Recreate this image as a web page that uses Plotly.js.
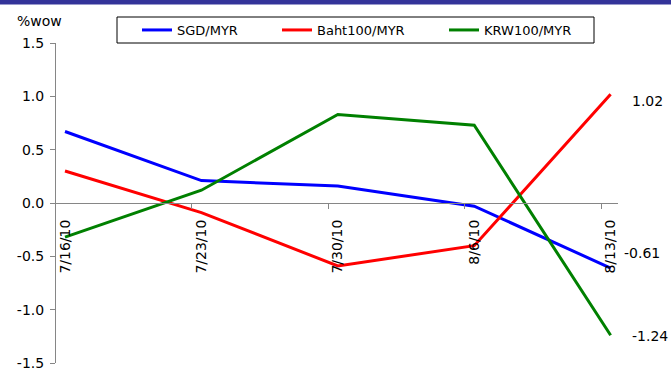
<!DOCTYPE html>
<html>
<head>
<meta charset="utf-8">
<script src="https://cdn.plot.ly/plotly-3.0.1.min.js"></script>
<style>
  html, body { margin: 0; padding: 0; background: #fff; }
  #wrap { position: relative; width: 671px; height: 372px; overflow: hidden; }
  #chart { position: absolute; left: 0; top: 0; width: 671px; height: 372px; }
  #band { position: absolute; left: 0; top: 0; width: 671px; height: 4px; background: #333399; border-bottom: 1px solid #9999cc; z-index: 5; }
</style>
</head>
<body>
<div id="wrap">
  <div id="chart"></div>
  <div id="band"></div>
</div>
<script>
// ---- data ----
const categories = ["7/16/10", "7/23/10", "7/30/10", "8/6/10", "8/13/10"];
const seriesNames = ["SGD/MYR", "Baht100/MYR", "KRW100/MYR"];
const sgdMyr  = [0.67, 0.21, 0.16, -0.03, -0.61];
const bahtMyr = [0.30, -0.09, -0.59, -0.40, 1.02];
const krwMyr  = [-0.32, 0.12, 0.83, 0.73, -1.24];
const yTickVals = [-1.5, -1.0, -0.5, 0.0, 0.5, 1.0, 1.5];
const yAxisTitle = "%wow";

// ---- styling ----
const FONT = "DejaVu Sans, Verdana, sans-serif";
const AXIS_GREY = "#868686";
const colors = ["#0000ff", "#ff0000", "#008000"];
const series = [sgdMyr, bahtMyr, krwMyr];
const legendIds = ["legend", "legend2", "legend3"];
const legendLeftPx = [137, 277, 444];

const W = 671, H = 372;
const M = { l: 56, r: 53, t: 43, b: 9 };
const plotW = W - M.l - M.r, plotH = H - M.t - M.b;
const pxToPaperX = px => (px - M.l) / plotW;
const pxToPaperY = py => 1 + (M.t - py) / plotH;

const idx = categories.map((_, i) => i);
const xRange = [-0.066, 4.054];
const TICK_OFFSET = 0.07;

const traces = series.map((vals, k) => ({
  type: "scatter",
  mode: "lines",
  x: idx,
  y: vals,
  name: seriesNames[k],
  legend: legendIds[k],
  line: { color: colors[k], width: 3 },
  xaxis: "x",
  yaxis: "y"
}));
// invisible trace to carry the overlay tick axis
traces.push({
  type: "scatter", mode: "lines", x: [xRange[0]], y: [0],
  xaxis: "x2", yaxis: "y", showlegend: false, hoverinfo: "skip",
  line: { color: "rgba(0,0,0,0)" }
});

// end-point data labels
const labelShift = [
  { xs: 11, ys: 15 },   // SGD
  { xs: 19, ys: -7 },   // Baht
  { xs: 19, ys: -1 }    // KRW
];
const annotations = series.map((vals, k) => {
  const last = vals.length - 1;
  return {
    x: idx[last], y: vals[last], xref: "x", yref: "y",
    text: vals[last].toFixed(2), showarrow: false,
    xanchor: "left", yanchor: "middle",
    xshift: labelShift[k].xs, yshift: labelShift[k].ys,
    font: { family: FONT, size: 14, color: "#000" }
  };
});
annotations.push({
  x: pxToPaperX(15), y: pxToPaperY(21), xref: "paper", yref: "paper",
  text: yAxisTitle, showarrow: false, xanchor: "left", yanchor: "middle",
  font: { family: FONT, size: 14, color: "#000" }
});

const layout = {
  width: W, height: H,
  margin: M,
  paper_bgcolor: "#ffffff",
  plot_bgcolor: "#ffffff",
  font: { family: FONT, size: 14, color: "#000" },
  showlegend: true,
  xaxis: {
    range: xRange,
    anchor: "free", position: 0.5,
    tickmode: "array", tickvals: idx, ticktext: categories,
    ticks: "", tickangle: -90,
    ticklabelstandoff: 10,
    showline: true, linecolor: AXIS_GREY, linewidth: 1,
    showgrid: false, zeroline: false,
    tickfont: { family: FONT, size: 14, color: "#000" },
    fixedrange: true
  },
  xaxis2: {
    range: xRange, overlaying: "x",
    anchor: "free", position: 0.5,
    tickmode: "array", tickvals: idx.map(i => i - TICK_OFFSET),
    showticklabels: false,
    ticks: "outside", ticklen: 5, tickwidth: 1, tickcolor: AXIS_GREY,
    showline: false, showgrid: false, zeroline: false
  },
  yaxis: {
    range: [-1.5, 1.5],
    tickmode: "array", tickvals: yTickVals,
    ticktext: yTickVals.map(v => v.toFixed(1)),
    ticks: "outside", ticklen: 5, tickwidth: 1, tickcolor: AXIS_GREY,
    ticklabelstandoff: 3,
    showline: true, linecolor: AXIS_GREY, linewidth: 1,
    showgrid: false, zeroline: false,
    tickfont: { family: FONT, size: 14, color: "#000" },
    fixedrange: true
  },
  annotations: annotations,
  shapes: [{
    type: "rect", xref: "paper", yref: "paper",
    x0: pxToPaperX(117), x1: pxToPaperX(594),
    y0: pxToPaperY(43), y1: pxToPaperY(17),
    line: { color: "#000", width: 1 }, fillcolor: "rgba(0,0,0,0)"
  }]
};
legendIds.forEach((id, k) => {
  layout[id] = {
    x: pxToPaperX(legendLeftPx[k]), xanchor: "left",
    y: pxToPaperY(30), yanchor: "middle",
    orientation: "h",
    bgcolor: "rgba(0,0,0,0)", borderwidth: 0,
    font: { family: FONT, size: 13, color: "#000" }
  };
});

Plotly.newPlot("chart", traces, layout, { staticPlot: true, displayModeBar: false });
</script>
</body>
</html>
